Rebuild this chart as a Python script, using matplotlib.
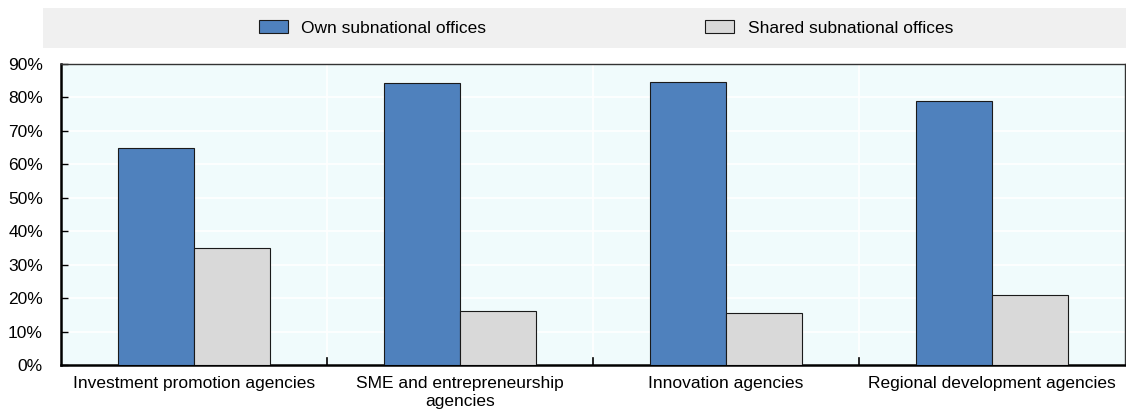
import matplotlib

matplotlib.use("Agg")
import matplotlib.pyplot as plt  # noqa: E402
import numpy as np  # noqa: E402
from matplotlib.patches import Rectangle  # noqa: E402

CATEGORIES = ["Investment promotion agencies", "SME and entrepreneurship\nagencies",
              "Innovation agencies", "Regional development agencies"]
OWN = [65.0, 84.2, 84.5, 79.0]
SHARED = [35.0, 16.0, 15.5, 21.0]
SERIES = ["Own subnational offices", "Shared subnational offices"]
YTICKS = [0, 10, 20, 30, 40, 50, 60, 70, 80, 90]

BLUE = "#4F81BD"
GREY = "#D9D9D9"
PANEL = "#F0FBFC"

plt.rcParams["font.family"] = ["Liberation Sans", "DejaVu Sans"]
plt.rcParams["font.size"] = 12.5

fig = plt.figure(figsize=(11.26, 4.18), dpi=100)
ax = fig.add_axes([61 / 1126, 1 - 365 / 418, 1064 / 1126, 301 / 418])
ax.set_facecolor(PANEL)

x = np.arange(len(CATEGORIES))
w = 0.285
b1 = ax.bar(x - w / 2, OWN, w, color=BLUE, edgecolor="#1a1a1a", linewidth=0.8,
            label=SERIES[0], zorder=3)
b2 = ax.bar(x + w / 2, SHARED, w, color=GREY, edgecolor="#1a1a1a", linewidth=0.8,
            label=SERIES[1], zorder=3)

ax.set_xlim(-0.5, len(CATEGORIES) - 0.5)
ax.set_ylim(0, 90)
ax.set_yticks(YTICKS)
ax.set_yticklabels([f"{v}%" for v in YTICKS])
ax.set_xticks(x)
ax.set_xticklabels(CATEGORIES, linespacing=1.25)
ax.tick_params(axis="x", length=0, pad=8)
ax.tick_params(axis="y", length=5, width=1.0, direction="in", pad=13)

# white grid: horizontal at each 10%, vertical between groups
ax.yaxis.grid(True, color="white", linewidth=1.2, zorder=1)
for sep in x[:-1] + 0.5:
    ax.axvline(sep, color="white", linewidth=1.2, zorder=1)
    ax.plot([sep, sep], [0, 2.2], color="black", linewidth=1.2, zorder=4,
            clip_on=False)

for side in ["left", "bottom"]:
    ax.spines[side].set_linewidth(1.8)
for side in ["top", "right"]:
    ax.spines[side].set_linewidth(1.0)
    ax.spines[side].set_color("#333333")

# grey band behind the legend
fig.patches.append(Rectangle((43 / 1126, 1 - 48 / 418), 1083 / 1126, 40 / 418,
                             transform=fig.transFigure, facecolor="#F0F0F0",
                             edgecolor="none", zorder=0))
fig.legend(handles=[b1, b2], labels=SERIES, loc="center",
           bbox_to_anchor=(606 / 1126, 1 - 28 / 418), ncol=2, frameon=False,
           handlelength=1.65, handleheight=0.75, columnspacing=12.6,
           handletextpad=0.8, borderpad=0, borderaxespad=0)

fig.savefig("out.png", dpi=100)
